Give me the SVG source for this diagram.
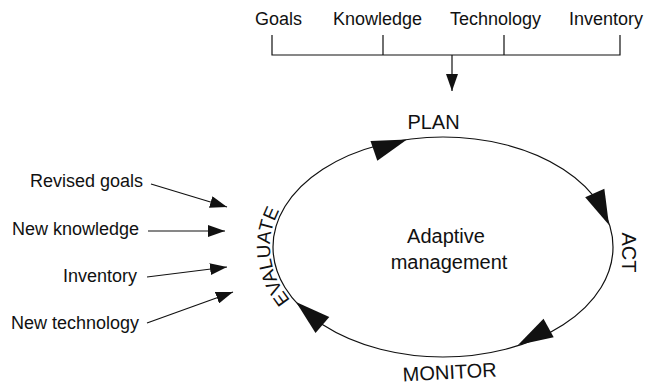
<svg xmlns="http://www.w3.org/2000/svg" width="646" height="387" viewBox="0 0 646 387">
  <style>
    text { font-family: "Liberation Sans", Arial, sans-serif; fill: #111; }
    .lbl { font-size: 18px; }
    .stage { font-size: 20px; }
    .center { font-size: 20px; text-anchor: middle; }
    .ln { stroke: #111; stroke-width: 1.2; fill: none; }
    .head { fill: #111; stroke: none; }
  </style>
  <defs>
    <marker id="arr" markerUnits="userSpaceOnUse" markerWidth="18" markerHeight="12" refX="17" refY="6" orient="auto">
      <path d="M0,0 L17,6 L0,12 Z" fill="#111"/>
    </marker>
    <path id="bigHead" d="M0,0 L-35,-10.5 L-35,10.5 Z"/>
    <path id="evalPath" d="M318.6,325.5 A173,113 0 0 1 303,180.6"/>
  </defs>

  <!-- connectors -->
  <g id="connectors">
    <!-- input bracket -->
    <path class="ln" d="M272,35 V55 H620 V35 M383,35 V55 M504,35 V55"/>
    <line class="ln" x1="452" y1="55" x2="452" y2="91" marker-end="url(#arr)"/>
    <!-- evaluation inputs -->
    <line class="ln" x1="151" y1="184" x2="227" y2="207" marker-end="url(#arr)"/>
    <line class="ln" x1="148" y1="231" x2="225" y2="231" marker-end="url(#arr)"/>
    <line class="ln" x1="147" y1="277" x2="227" y2="267" marker-end="url(#arr)"/>
    <line class="ln" x1="147" y1="323" x2="233" y2="292" marker-end="url(#arr)"/>
    <!-- cycle -->
    <ellipse class="ln" cx="443" cy="247" rx="170" ry="110"/>
    <use class="head" href="#bigHead" transform="translate(407,139.5) rotate(-19)"/>
    <use class="head" href="#bigHead" transform="translate(609,225) rotate(66)"/>
    <use class="head" href="#bigHead" transform="translate(518,345) rotate(151)"/>
    <use class="head" href="#bigHead" transform="translate(296,302) rotate(221)"/>
  </g>

  <g id="input-goals"><text class="lbl" x="255" y="25">Goals</text></g>
  <g id="input-knowledge"><text class="lbl" x="333" y="25">Knowledge</text></g>
  <g id="input-technology"><text class="lbl" x="450" y="25">Technology</text></g>
  <g id="input-inventory"><text class="lbl" x="569" y="25">Inventory</text></g>

  <g id="eval-revised-goals"><text class="lbl" x="143" y="187" text-anchor="end">Revised goals</text></g>
  <g id="eval-new-knowledge"><text class="lbl" x="139" y="235" text-anchor="end">New knowledge</text></g>
  <g id="eval-inventory"><text class="lbl" x="137" y="282" text-anchor="end">Inventory</text></g>
  <g id="eval-new-technology"><text class="lbl" x="139" y="329" text-anchor="end">New technology</text></g>

  <g id="stage-plan"><text class="stage" x="433.5" y="129" text-anchor="middle">PLAN</text></g>
  <g id="stage-act"><text class="stage" transform="translate(622,252.5) rotate(90)" text-anchor="middle">ACT</text></g>
  <g id="stage-monitor"><text class="stage" transform="translate(450,379) rotate(-3)" text-anchor="middle">MONITOR</text></g>
  <g id="stage-evaluate"><text class="stage" style="font-size:19px"><textPath href="#evalPath" startOffset="50%" text-anchor="middle">EVALUATE</textPath></text></g>

  <g id="center-label">
    <text class="center" x="446" y="243">Adaptive</text>
    <text class="center" x="449" y="269">management</text>
  </g>
</svg>
